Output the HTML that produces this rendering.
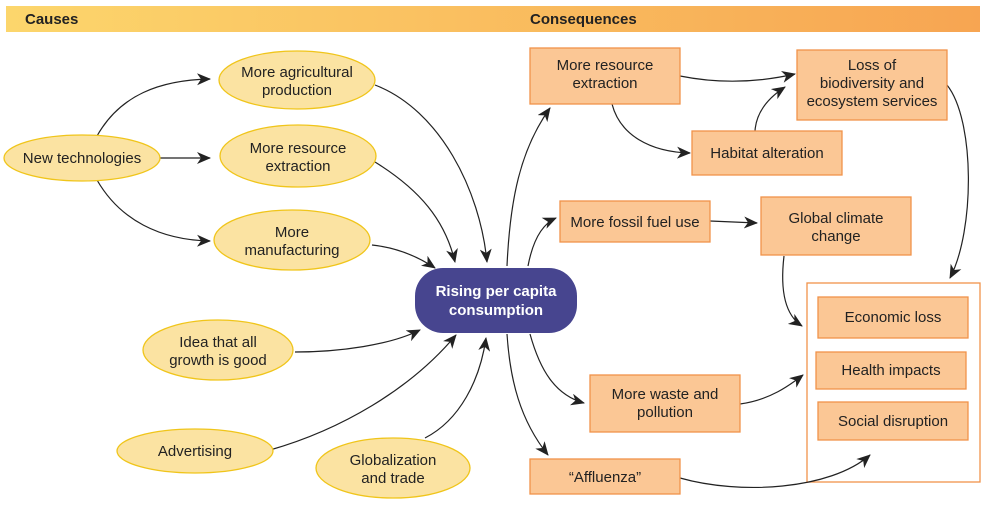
<!DOCTYPE html>
<html><head><meta charset="utf-8"><style>
html,body{margin:0;padding:0;background:#fff;}
svg text{font-family:"Liberation Sans",sans-serif;font-size:15px;fill:#222;text-anchor:middle;}
</style></head><body>
<svg width="986" height="519" viewBox="0 0 986 519" xmlns="http://www.w3.org/2000/svg">
<defs>
<linearGradient id="g" x1="0" x2="1"><stop offset="0" stop-color="#fcd66c"/><stop offset="1" stop-color="#f7a552"/></linearGradient>
<marker id="a" markerWidth="14" markerHeight="12" refX="13" refY="6" orient="auto" markerUnits="userSpaceOnUse"><path d="M0,0 L14,6 L0,12 L4,6 z" fill="#222"/></marker>
</defs>
<rect x="6" y="6" width="974" height="26" fill="url(#g)"/>
<text x="25" y="24" style="font-weight:bold;text-anchor:start;font-size:15px">Causes</text>
<text x="530" y="24" style="font-weight:bold;text-anchor:start;font-size:15px">Consequences</text>

<rect x="807" y="283" width="173" height="199" fill="#fff" stroke="#f0934a" stroke-width="1.3"/>

<g fill="none" stroke="#222" stroke-width="1.2" marker-end="url(#a)">
<path d="M97,136 C120,95 160,80 210,79"/>
<path d="M160,158 L210,158"/>
<path d="M97,180 C120,220 160,240 210,241"/>
<path d="M375,85 C440,110 480,190 487,262"/>
<path d="M375,162 C420,190 445,220 455,262"/>
<path d="M372,245 C400,248 420,258 435,268"/>
<path d="M295,352 C340,352 390,345 420,330"/>
<path d="M270,450 C340,430 410,390 456,335"/>
<path d="M425,438 C460,420 480,380 486,338"/>
<path d="M507,266 C510,200 520,150 550,108"/>
<path d="M528,266 C532,245 540,225 556,218"/>
<path d="M530,334 C540,370 555,395 584,403"/>
<path d="M507,334 C510,380 520,420 548,455"/>
<path d="M680,76 C720,84 760,82 795,74"/>
<path d="M612,104 C620,135 650,152 690,153"/>
<path d="M755,131 C756,115 765,100 785,87"/>
<path d="M710,221 L757,223"/>
<path d="M947,85 C975,120 975,230 950,278"/>
<path d="M784,256 C780,290 785,315 802,326"/>
<path d="M740,404 C770,400 790,385 803,375"/>
<path d="M680,478 C740,495 830,490 870,455"/>
</g>

<g fill="#fbe3a2" stroke="#f0c51a" stroke-width="1.3">
<ellipse cx="82" cy="158" rx="78" ry="23"/>
<ellipse cx="297" cy="80" rx="78" ry="29"/>
<ellipse cx="298" cy="156" rx="78" ry="31"/>
<ellipse cx="292" cy="240" rx="78" ry="30"/>
<ellipse cx="218" cy="350" rx="75" ry="30"/>
<ellipse cx="195" cy="451" rx="78" ry="22"/>
<ellipse cx="393" cy="468" rx="77" ry="30"/>
</g>
<text x="82" y="163">New technologies</text>
<text x="297" y="77">More agricultural</text><text x="297" y="95">production</text>
<text x="298" y="153">More resource</text><text x="298" y="171">extraction</text>
<text x="292" y="237">More</text><text x="292" y="255">manufacturing</text>
<text x="218" y="347">Idea that all</text><text x="218" y="365">growth is good</text>
<text x="195" y="456">Advertising</text>
<text x="393" y="465">Globalization</text><text x="393" y="483">and trade</text>

<rect x="415" y="268" width="162" height="65" rx="28" fill="#47458f"/>
<text x="496" y="296" style="fill:#fff;font-weight:bold">Rising per capita</text>
<text x="496" y="315" style="fill:#fff;font-weight:bold">consumption</text>

<g fill="#fbc795" stroke="#f0934a" stroke-width="1.3">
<rect x="530" y="48" width="150" height="56"/>
<rect x="797" y="50" width="150" height="70"/>
<rect x="692" y="131" width="150" height="44"/>
<rect x="560" y="201" width="150" height="41"/>
<rect x="761" y="197" width="150" height="58"/>
<rect x="818" y="297" width="150" height="41"/>
<rect x="816" y="352" width="150" height="37"/>
<rect x="818" y="402" width="150" height="38"/>
<rect x="590" y="375" width="150" height="57"/>
<rect x="530" y="459" width="150" height="35"/>
</g>
<text x="605" y="70">More resource</text><text x="605" y="88">extraction</text>
<text x="872" y="70">Loss of</text><text x="872" y="88">biodiversity and</text><text x="872" y="106">ecosystem services</text>
<text x="767" y="158">Habitat alteration</text>
<text x="635" y="227">More fossil fuel use</text>
<text x="836" y="223">Global climate</text><text x="836" y="241">change</text>
<text x="893" y="322">Economic loss</text>
<text x="891" y="375">Health impacts</text>
<text x="893" y="426">Social disruption</text>
<text x="665" y="399">More waste and</text><text x="665" y="417">pollution</text>
<text x="605" y="482">“Affluenza”</text>
</svg>
</body></html>
